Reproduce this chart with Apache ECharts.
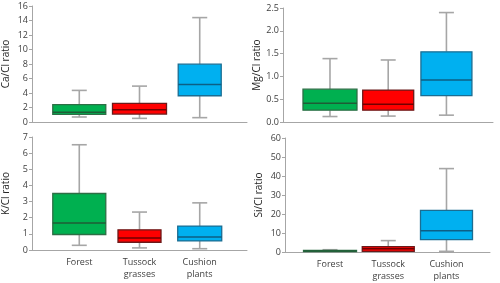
<!DOCTYPE html>
<html>
<head>
<meta charset="utf-8">
<script src="https://cdn.jsdelivr.net/npm/echarts@6/dist/echarts.min.js"></script>
<style>
html,body{margin:0;padding:0;background:#fff;}
#c{width:500px;height:283px;}
</style>
</head>
<body>
<div id="c"></div>
<script>
// ---- data: [min, Q1, median, Q3, max] per category ----
const categories = ['Forest', 'Tussock\ngrasses', 'Cushion\nplants'];
const caCl = [[0.69, 1.05, 1.33, 2.39, 4.36], [0.50, 1.10, 1.70, 2.57, 4.95], [0.60, 3.62, 5.18, 7.98, 14.4]];
const mgCl = [[0.12, 0.26, 0.41, 0.72, 1.39], [0.13, 0.26, 0.39, 0.70, 1.36], [0.15, 0.58, 0.92, 1.54, 2.40]];
const kCl  = [[0.29, 0.96, 1.67, 3.50, 6.52], [0.13, 0.48, 0.75, 1.25, 2.35], [0.08, 0.56, 0.81, 1.48, 2.92]];
const siCl = [[0.1, 0.2, 0.5, 0.9, 1.2], [0.2, 0.35, 1.75, 2.8, 6.0], [0.35, 6.5, 11.2, 21.9, 43.9]];
const yNames = ['Ca/Cl ratio', 'Mg/Cl ratio', 'K/Cl ratio', 'Si/Cl ratio'];
const yMax = [16, 2.5, 7, 60];
const yStep = [2, 0.5, 1, 10];

// ---- styles ----
const fills = ['#00b050', '#ff0000', '#00b0f0'];
const strokes = ['#2d6e45', '#6b1a1a', '#1b6d92'];
const medians = ['#1f5c36', '#700000', '#0d5f85'];
const whiskerColor = '#a6a6a6';
const axisColor = '#a6a6a6';
const font = 'Open Sans';

const panels = [
  {data: caCl, grid: {left: 31, top: 6, width: 216, height: 116}, xr: [-0.785, 2.785], bw: [53, 54, 43], labels: false, dec: 0},
  {data: mgCl, grid: {left: 283, top: 8, width: 210, height: 114}, xr: [-0.807, 2.80], bw: [54, 51, 51], labels: false, dec: 1},
  {data: kCl,  grid: {left: 31, top: 137, width: 216, height: 113}, xr: [-0.785, 2.785], bw: [53, 43, 44], labels: true, dec: 0},
  {data: siCl, grid: {left: 285, top: 138, width: 205, height: 114}, xr: [-0.773, 2.747], bw: [53, 52, 52], labels: true, dec: 0}
];

function makeRender(bw) {
  return function (params, api) {
    const i = api.value(0);
    const x = api.coord([i, 0])[0];
    const yMin = api.coord([i, api.value(1)])[1];
    const yQ1 = api.coord([i, api.value(2)])[1];
    const yMed = api.coord([i, api.value(3)])[1];
    const yQ3 = api.coord([i, api.value(4)])[1];
    const yMx = api.coord([i, api.value(5)])[1];
    const w = bw[i];
    const cap = 15;
    const ws = function () { return {stroke: whiskerColor, lineWidth: 1.6}; };
    return {
      type: 'group',
      children: [
        {type: 'line', shape: {x1: x, y1: yMx, x2: x, y2: yQ3}, style: ws()},
        {type: 'line', shape: {x1: x, y1: yQ1, x2: x, y2: yMin}, style: ws()},
        {type: 'line', shape: {x1: x - cap / 2, y1: yMx, x2: x + cap / 2, y2: yMx}, style: ws()},
        {type: 'line', shape: {x1: x - cap / 2, y1: yMin, x2: x + cap / 2, y2: yMin}, style: ws()},
        {type: 'rect', shape: {x: x - w / 2, y: yQ3, width: w, height: Math.max(yQ1 - yQ3, 0.5)},
          style: {fill: fills[i], stroke: strokes[i], lineWidth: 1.3}},
        {type: 'line', shape: {x1: x - w / 2, y1: yMed, x2: x + w / 2, y2: yMed},
          style: {stroke: medians[i], lineWidth: 1.5}}
      ]
    };
  };
}

const option = {animation: false, grid: [], xAxis: [], yAxis: [], series: []};

panels.forEach(function (p, k) {
  option.grid.push(Object.assign({}, p.grid));
  const xLabel = {
    show: p.labels, margin: 6,
    fontFamily: font, fontSize: 9, color: '#404040', lineHeight: 12,
    formatter: function (v) { return categories[Math.round(v)]; }
  };
  if (p.labels) xLabel.customValues = [0, 1, 2];
  option.xAxis.push({
    type: 'value', gridIndex: k, min: p.xr[0], max: p.xr[1],
    splitLine: {show: false},
    axisLine: {show: true, onZero: false, lineStyle: {color: axisColor, width: 1}},
    axisTick: {show: false},
    axisLabel: xLabel
  });
  option.yAxis.push({
    type: 'value', gridIndex: k, min: 0, max: yMax[k], interval: yStep[k],
    name: yNames[k], nameLocation: 'middle', nameGap: 21, nameRotate: 90,
    nameTextStyle: {fontFamily: font, fontSize: 10, color: '#262626'},
    splitLine: {show: false},
    axisLine: {show: true, onZero: false, lineStyle: {color: axisColor, width: 1}},
    axisTick: {show: true, length: 3, lineStyle: {color: axisColor}},
    axisLabel: {
      fontFamily: font, fontSize: 9, color: '#404040', margin: 4,
      formatter: function (v) { return v.toFixed(p.dec); }
    }
  });
  option.series.push({
    type: 'custom', xAxisIndex: k, yAxisIndex: k,
    renderItem: makeRender(p.bw),
    encode: {x: 0, y: [1, 2, 3, 4, 5]},
    data: p.data.map(function (d, i) { return [i].concat(d); })
  });
});

const chart = echarts.init(document.getElementById('c'), null, {renderer: 'canvas'});
chart.setOption(option);
</script>
</body>
</html>
